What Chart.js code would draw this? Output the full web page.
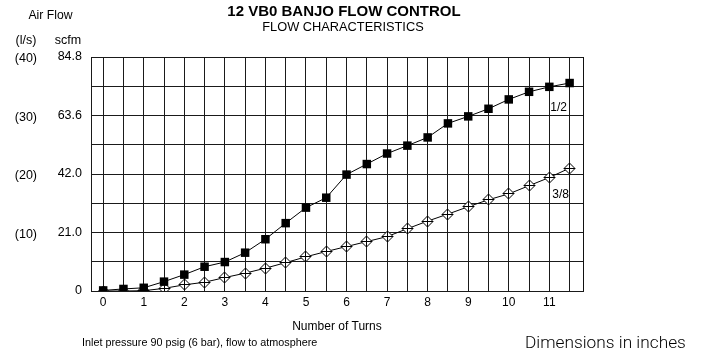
<!DOCTYPE html>
<html>
<head>
<meta charset="utf-8">
<script src="https://cdn.jsdelivr.net/npm/chart.js@4/dist/chart.umd.min.js"></script>
<style>
  html, body { margin: 0; padding: 0; background: #fff; }
  #wrap { position: relative; width: 703px; height: 352px; }
</style>
</head>
<body>
<div id="wrap"><canvas id="flowChart" width="703" height="352"></canvas></div>
<script>
// Turns of the adjusting screw (x) and flow in l/s (y)
const turns = [0, 0.5, 1, 1.5, 2, 2.5, 3, 3.5, 4, 4.5, 5, 5.5, 6, 6.5, 7, 7.5, 8, 8.5, 9, 9.5, 10, 10.5, 11, 11.5];
const flowHalf = [0.1, 0.35, 0.55, 1.6, 2.8, 4.15, 4.95, 6.55, 8.85, 11.6, 14.25, 15.95, 19.9, 21.7, 23.5, 24.85, 26.25, 28.65, 29.85, 31.15, 32.75, 34.05, 34.9, 35.55];
const flowThreeEighth = [0, 0, 0.05, 0.45, 1.05, 1.5, 2.3, 3.05, 3.9, 4.85, 5.85, 6.75, 7.6, 8.45, 9.3, 10.65, 11.95, 13.15, 14.4, 15.6, 16.6, 18.0, 19.4, 21.0];
const seriesNames = ['1/2', '3/8'];

// Axis labelling
const turnLabels = ['0', '1', '2', '3', '4', '5', '6', '7', '8', '9', '10', '11'];
const lpsTicks = [0, 10, 20, 30, 40];
const lpsLabels = ['', '(10)', '(20)', '(30)', '(40)'];
const scfmLabels = ['0', '21.0', '42.0', '63.6', '84.8'];

const FONT = '"Liberation Sans", Arial, Helvetica, sans-serif';

// open diamond with a plus through it
function diamondMark(r) {
  const c = document.createElement('canvas');
  const s = Math.ceil(r * 2 + 2);
  c.width = c.height = s;
  const g = c.getContext('2d');
  const m = s / 2;
  g.beginPath();
  g.moveTo(m, m - r);
  g.lineTo(m + r, m);
  g.lineTo(m, m + r);
  g.lineTo(m - r, m);
  g.closePath();
  g.fillStyle = '#fff';
  g.fill();
  g.strokeStyle = '#000';
  g.lineWidth = 1;
  g.stroke();
  g.beginPath();
  g.moveTo(m, m - r);
  g.lineTo(m, m + r);
  g.moveTo(m - r, m);
  g.lineTo(m + r, m);
  g.stroke();
  return c;
}

function lpsLabel(list) {
  return function(value) {
    const i = lpsTicks.indexOf(value);
    return i >= 0 ? list[i] : '';
  };
}

// frame, headings and notes around the plot
const decorations = {
  id: 'decorations',
  beforeDatasetsDraw(chart) {
    const { ctx, chartArea: a } = chart;
    ctx.save();
    ctx.strokeStyle = '#111';
    ctx.lineWidth = 1;
    ctx.beginPath();
    ctx.moveTo(Math.round(a.right) + 0.5, a.top);
    ctx.lineTo(Math.round(a.right) + 0.5, a.bottom);
    ctx.stroke();
    ctx.restore();
    // keep the diamond markers sharp
    ctx.imageSmoothingEnabled = false;
  },
  afterDatasetsDraw(chart) {
    chart.ctx.imageSmoothingEnabled = true;
  },
  afterDraw(chart) {
    const { ctx } = chart;
    const xs = chart.scales.x, ys = chart.scales.y;
    ctx.save();
    ctx.fillStyle = '#000';
    ctx.textBaseline = 'middle';
    ctx.textAlign = 'center';

    ctx.font = 'bold 15px ' + FONT;
    ctx.fillText('12 VB0 BANJO FLOW CONTROL', 344, 11.5);
    ctx.font = '12.8px ' + FONT;
    ctx.fillText('FLOW CHARACTERISTICS', 343, 27.5);

    ctx.font = '12.2px ' + FONT;
    ctx.fillText('Air Flow', 50.5, 16);
    ctx.font = '12.5px ' + FONT;
    ctx.fillText('(l/s)', 26, 41);
    ctx.fillText('scfm', 68, 41);

    // series tags beside the last points
    ctx.font = '12px ' + FONT;
    const lastX = xs.getPixelForValue(turns[turns.length - 1]);
    ctx.fillText(seriesNames[0], lastX - 11, ys.getPixelForValue(flowHalf[flowHalf.length - 1]) + 25);
    ctx.fillText(seriesNames[1], lastX - 9, ys.getPixelForValue(flowThreeEighth[flowThreeEighth.length - 1]) + 27);

    ctx.textAlign = 'left';
    ctx.font = '10.8px ' + FONT;
    ctx.fillText('Inlet pressure 90 psig (6 bar), flow to atmosphere', 82, 343);
    ctx.font = '300 17.3px Roboto, ' + FONT;
    ctx.fillText('Dimensions in inches', 525, 344);
    ctx.restore();
  }
};

const gridColor = '#1a1a1a';

new Chart(document.getElementById('flowChart'), {
  type: 'line',
  data: {
    datasets: [
      {
        label: seriesNames[0],
        data: turns.map((t, i) => ({ x: t, y: flowHalf[i] })),
        borderColor: '#000',
        borderWidth: 1,
        pointStyle: 'rect',
        pointRadius: 6,
        pointBackgroundColor: '#000',
        pointBorderColor: '#000',
        pointBorderWidth: 0,
        tension: 0
      },
      {
        label: seriesNames[1],
        data: turns.map((t, i) => ({ x: t, y: flowThreeEighth[i] })),
        borderColor: '#000',
        borderWidth: 1,
        pointStyle: diamondMark(5.5),
        pointRadius: 6,
        tension: 0
      }
    ]
  },
  options: {
    responsive: false,
    animation: false,
    events: [],
    layout: { padding: { top: 57, right: 120, left: 0, bottom: 0 } },
    plugins: {
      legend: { display: false },
      tooltip: { enabled: false }
    },
    scales: {
      x: {
        type: 'linear',
        min: -0.3,
        max: 11.83,
        afterBuildTicks: scale => {
          scale.ticks = turns.map(v => ({ value: v }));
        },
        afterFit: scale => { scale.height = 61; },
        grid: { color: gridColor, lineWidth: 1, drawTicks: false },
        border: { color: gridColor, width: 1 },
        ticks: {
          padding: 4,
          color: '#000',
          font: { family: FONT, size: 12 },
          maxRotation: 0,
          autoSkip: false,
          callback: value => Number.isInteger(value) ? turnLabels[value] : ''
        },
        title: {
          display: true,
          text: 'Number of Turns',
          color: '#000',
          font: { family: FONT, size: 12 },
          padding: { top: 0, bottom: 18 }
        }
      },
      y: {
        type: 'linear',
        position: 'left',
        weight: 0,
        min: 0,
        max: 40,
        afterFit: scale => { scale.width = 51; },
        grid: { color: gridColor, lineWidth: 1, drawTicks: false },
        border: { color: gridColor, width: 1 },
        ticks: {
          stepSize: 5,
          padding: 9,
          labelOffset: 0,
          color: '#000',
          font: { family: FONT, size: 12.5 },
          callback: lpsLabel(scfmLabels)
        }
      },
      yl: {
        type: 'linear',
        position: 'left',
        weight: 1,
        min: 0,
        max: 40,
        afterFit: scale => { scale.width = 40; },
        grid: { display: false, drawTicks: false },
        border: { display: false },
        ticks: {
          stepSize: 5,
          padding: 3,
          labelOffset: 2,
          color: '#000',
          font: { family: FONT, size: 12.5 },
          callback: lpsLabel(lpsLabels)
        }
      }
    }
  },
  plugins: [decorations]
});
</script>
</body>
</html>
